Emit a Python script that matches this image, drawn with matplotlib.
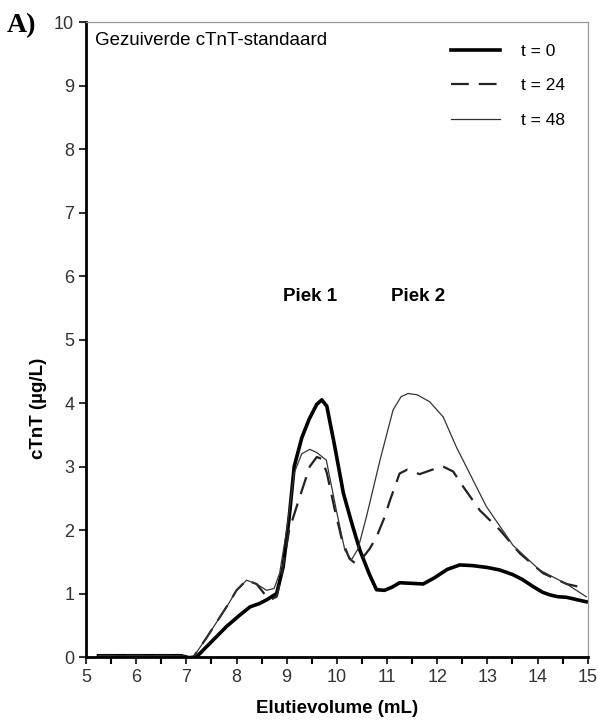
import numpy as np
import matplotlib.pyplot as plt
from matplotlib.ticker import MultipleLocator

plt.rcParams['font.family'] = ['Liberation Sans', 'DejaVu Sans']

# elution profiles (mL, ug/L)
x_t0 = [5.25, 6.0, 6.9, 7.05, 7.2, 7.5, 7.8, 8.05, 8.27, 8.45, 8.6, 8.8, 8.93, 9.05, 9.15,
        9.3, 9.45, 9.6, 9.7, 9.8, 9.95, 10.13, 10.3, 10.46, 10.65, 10.79, 10.95, 11.1, 11.25,
        11.5, 11.72, 11.95, 12.2, 12.45, 12.7, 13.0, 13.25, 13.5, 13.7, 13.91, 14.1, 14.24,
        14.4, 14.58, 14.8, 14.97]
y_t0 = [0.02, 0.02, 0.02, -0.01, 0.0, 0.24, 0.48, 0.65, 0.79, 0.84, 0.9, 1.0, 1.42, 2.2, 3.0,
        3.45, 3.75, 3.98, 4.05, 3.95, 3.35, 2.58, 2.1, 1.68, 1.3, 1.06, 1.05, 1.1, 1.17,
        1.16, 1.15, 1.25, 1.38, 1.45, 1.44, 1.41, 1.37, 1.3, 1.22, 1.11, 1.02, 0.98,
        0.95, 0.94, 0.9, 0.87]

x_t24 = [5.25, 6.0, 6.9, 7.05, 7.14, 7.4, 7.67, 7.85, 8.0, 8.2, 8.4, 8.55, 8.67, 8.8, 8.9,
         9.05, 9.26, 9.46, 9.6, 9.7, 9.8, 9.95, 10.1, 10.25, 10.36, 10.5, 10.65, 10.79,
         10.95, 11.06, 11.25, 11.4, 11.65, 11.9, 12.12, 12.32, 12.52, 12.85, 13.25, 13.65,
         14.11, 14.58, 14.97]
y_t24 = [0.02, 0.02, 0.02, -0.01, 0.0, 0.3, 0.63, 0.85, 1.05, 1.21, 1.15, 1.0, 0.9, 0.95, 1.3,
         2.0, 2.52, 3.0, 3.15, 3.12, 2.9, 2.35, 1.85, 1.55, 1.48, 1.55, 1.7, 1.89,
         2.2, 2.47, 2.89, 2.95, 2.88, 2.95, 3.0, 2.92, 2.68, 2.31, 2.0, 1.63,
         1.32, 1.15, 1.08]

x_t48 = [5.25, 6.0, 6.9, 7.05, 7.14, 7.4, 7.67, 7.85, 8.0, 8.2, 8.4, 8.6, 8.75, 8.86, 9.0,
         9.15, 9.3, 9.46, 9.6, 9.79, 9.99, 10.16, 10.29, 10.42, 10.59, 10.86, 11.12, 11.28,
         11.42, 11.6, 11.85, 12.12, 12.38, 12.98, 13.51, 14.04, 14.58, 14.97]
y_t48 = [0.02, 0.02, 0.02, -0.01, 0.0, 0.3, 0.63, 0.85, 1.05, 1.21, 1.15, 1.05, 1.08, 1.32, 2.0,
         2.9, 3.2, 3.27, 3.22, 3.1, 2.31, 1.68, 1.53, 1.7, 2.21, 3.1, 3.89, 4.1,
         4.15, 4.13, 4.02, 3.78, 3.31, 2.37, 1.76, 1.37, 1.15, 0.95]

fig = plt.figure(figsize=(5.98, 7.22), dpi=100)
ax = fig.add_axes([0.1438, 0.09, 0.839, 0.8795])

ax.plot(x_t0, y_t0, color='black', lw=2.6, label='t = 0')
ax.plot(x_t24, y_t24, color='#222222', lw=1.6, dashes=(8, 4.5), label='t = 24')
ax.plot(x_t48, y_t48, color='#333333', lw=0.9, label='t = 48')

ax.set_xlim(5, 15)
ax.set_ylim(0, 10)
ax.xaxis.set_major_locator(MultipleLocator(1))
ax.xaxis.set_minor_locator(MultipleLocator(0.5))
ax.yaxis.set_major_locator(MultipleLocator(1))
ax.tick_params(axis='both', which='major', direction='out', length=5, width=1.5,
               labelsize=13, colors='#333333')
ax.tick_params(axis='x', which='minor', direction='out', length=5, width=1.5)

for side in ['left', 'bottom']:
    ax.spines[side].set_linewidth(2)
for side in ['top', 'right']:
    ax.spines[side].set_linewidth(0.9)
    ax.spines[side].set_color('#999999')

ax.set_xlabel('Elutievolume (mL)', fontsize=13.5, fontweight='bold')
ax.xaxis.set_label_coords(0.5, -0.068)
ax.set_ylabel('cTnT (µg/L)', fontsize=13.5, fontweight='bold')
ax.yaxis.set_label_coords(-0.078, 0.392)

ax.text(0.018, 0.985, 'Gezuiverde cTnT-standaard', transform=ax.transAxes, fontsize=13.5,
        va='top', ha='left')
ax.text(9.46, 5.67, 'Piek 1', fontsize=13.5, fontweight='bold', ha='center', va='center')
ax.text(11.61, 5.67, 'Piek 2', fontsize=13.5, fontweight='bold', ha='center', va='center')

fig.text(0.012, 0.965, 'A)', fontsize=20, fontweight='bold', family='Liberation Serif',
         ha='left', va='center')

ax.legend(loc='upper right', bbox_to_anchor=(0.985, 0.99), frameon=False, fontsize=12.5,
          handlelength=2.8, labelspacing=1.1, handletextpad=1.2)

fig.savefig('out.png', dpi=100)
